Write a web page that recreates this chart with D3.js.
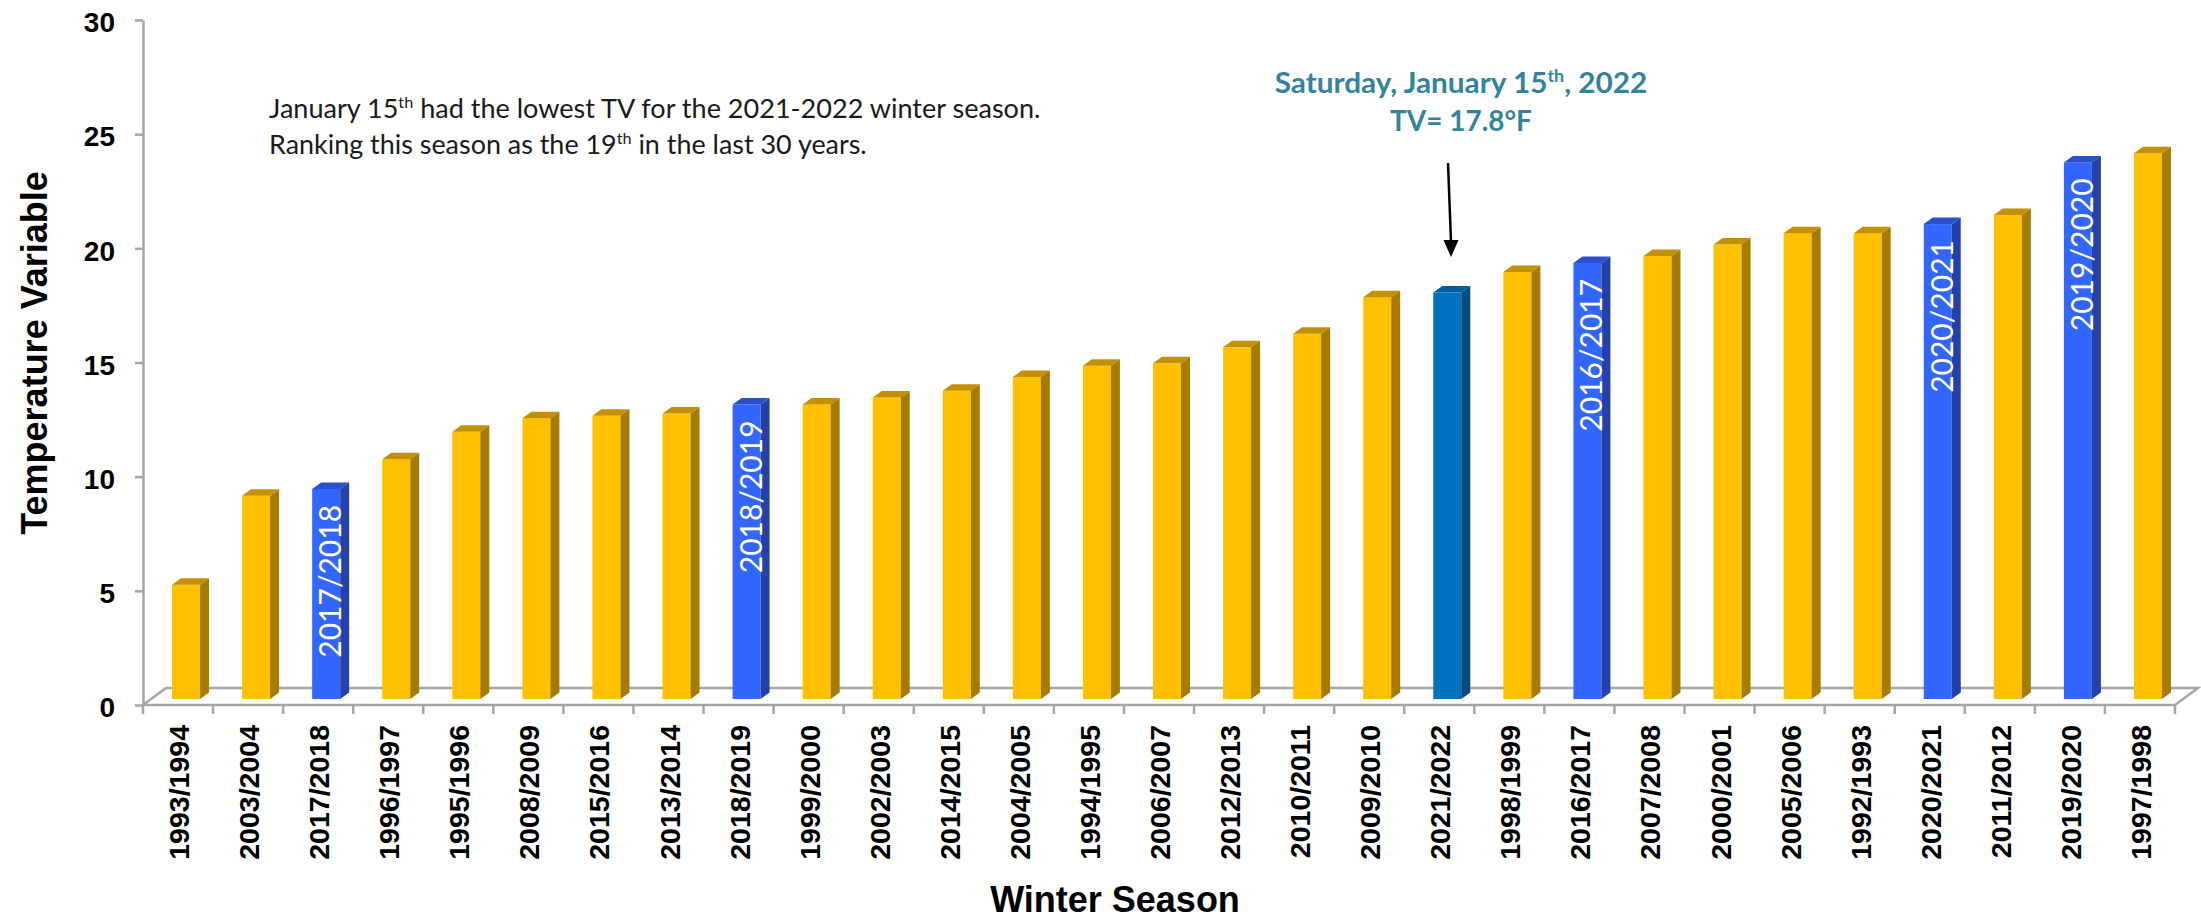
<!DOCTYPE html>
<html><head><meta charset="utf-8">
<script src="https://cdn.jsdelivr.net/npm/d3@7"></script>
<style>
html,body{margin:0;padding:0;background:#fff;}
svg{display:block;}
</style></head>
<body>
<svg id="chart" width="2201" height="921"></svg>
<script>
// ---------------- DATA ----------------
const seasons = ["1993/1994","2003/2004","2017/2018","1996/1997","1995/1996","2008/2009","2015/2016","2013/2014","2018/2019","1999/2000","2002/2003","2014/2015","2004/2005","1994/1995","2006/2007","2012/2013","2010/2011","2009/2010","2021/2022","1998/1999","2016/2017","2007/2008","2000/2001","2005/2006","1992/1993","2020/2021","2011/2012","2019/2020","1997/1998"];
const tvValues = [5.0,8.9,9.2,10.5,11.7,12.3,12.4,12.5,12.9,12.9,13.2,13.5,14.1,14.6,14.7,15.4,16.0,17.6,17.8,18.7,19.1,19.4,19.9,20.4,20.4,20.8,21.2,23.5,23.9];
const recentSeasons = ["2016/2017","2017/2018","2018/2019","2019/2020","2020/2021"];
const currentSeason = "2021/2022";
const yTicks = [0,5,10,15,20,25,30];
const yTitle = "Temperature Variable";
const xTitle = "Winter Season";

// ---------------- SETUP ----------------
const svg = d3.select("#chart");
const ARIAL = "'Liberation Sans', Arial, sans-serif";
const CALIBRI = "Lato, 'Open Sans', sans-serif";

const x = d3.scaleBand().domain(seasons).range([143, 2175]).padding(0);
const y = d3.scaleLinear().domain([0, 30]).range([705, 20]);
const bw = x.bandwidth();

const floorDepth = {dx: 23, dy: 17};
const barPlane = {dx: 8, dy: 6};
const barW = 28, barDx = 9, barDy = 6.5;

const palette = {
  normal:  {front: "#FFC000", side: "#A67C00", top: "#C29000"},
  recent:  {front: "#3366FF", side: "#2341A8", top: "#2A50CC"},
  current: {front: "#0070C0", side: "#004B82", top: "#005C9E"}
};
function kind(s){ return s === currentSeason ? "current" : (recentSeasons.includes(s) ? "recent" : "normal"); }

const data = seasons.map((s, i) => ({season: s, value: tvValues[i]}));

// ---------------- FLOOR ----------------
const x0 = x.range()[0], x1 = x.range()[1], y0 = y(0);
svg.append("polygon")
  .attr("points", [[x0, y0], [x1, y0], [x1 + floorDepth.dx, y0 - floorDepth.dy], [x0 + floorDepth.dx, y0 - floorDepth.dy]].map(p => p.join(",")).join(" "))
  .attr("fill", "#fff").attr("stroke", "#A6A6A6").attr("stroke-width", 2.5).attr("stroke-linejoin", "miter");

// ---------------- Y AXIS ----------------
const yAxis = d3.axisLeft(y).tickValues(yTicks).tickSize(8).tickSizeOuter(0).tickPadding(20);
const gy = svg.append("g").attr("transform", `translate(${x0},0)`).call(yAxis);
gy.select(".domain").attr("stroke", "#A6A6A6").attr("stroke-width", 2.5);
gy.selectAll(".tick line").attr("stroke", "#A6A6A6").attr("stroke-width", 2.5);
gy.selectAll(".tick text").attr("font-family", ARIAL).attr("font-weight", "bold")
  .attr("font-size", 28).attr("fill", "#000").attr("dy", "0.42em");

// ---------------- X TICKS ----------------
const edges = seasons.map(s => x(s)).concat([x(seasons[seasons.length - 1]) + bw]);
svg.append("g").selectAll("line").data(edges).join("line")
  .attr("x1", d => d).attr("x2", d => d).attr("y1", y0).attr("y2", y0 + 9)
  .attr("stroke", "#A6A6A6").attr("stroke-width", 2.5);

svg.append("g").selectAll("text").data(seasons).join("text")
  .attr("transform", s => `translate(${x(s) + bw / 2 + 11},${y0 + 20}) rotate(-90)`)
  .attr("text-anchor", "end")
  .attr("font-family", ARIAL).attr("font-weight", "bold").attr("font-size", 28.5)
  .attr("fill", "#000")
  .text(s => s);

// ---------------- BARS ----------------
const bars = svg.append("g").selectAll("g").data(data).join("g");
function geom(d){
  const fl = x(d.season) + bw / 2 + barPlane.dx - barW / 2;
  const yb = y(0) - barPlane.dy;
  const yt = y(d.value) - barPlane.dy;
  return {fl, yb, yt, fr: fl + barW};
}
bars.append("rect")
  .attr("x", d => geom(d).fl).attr("y", d => geom(d).yt)
  .attr("width", barW).attr("height", d => geom(d).yb - geom(d).yt)
  .attr("fill", d => palette[kind(d.season)].front);
bars.append("polygon")
  .attr("points", d => { const g = geom(d);
    return [[g.fr, g.yt], [g.fr + barDx, g.yt - barDy], [g.fr + barDx, g.yb - barDy], [g.fr, g.yb]].map(p => p.join(",")).join(" "); })
  .attr("fill", d => palette[kind(d.season)].side);
bars.append("polygon")
  .attr("points", d => { const g = geom(d);
    return [[g.fl, g.yt], [g.fl + barDx, g.yt - barDy], [g.fr + barDx, g.yt - barDy], [g.fr, g.yt]].map(p => p.join(",")).join(" "); })
  .attr("fill", d => palette[kind(d.season)].top);

// labels inside recent-season bars
svg.append("g").selectAll("text").data(data.filter(d => kind(d.season) === "recent")).join("text")
  .attr("transform", d => { const g = geom(d); return `translate(${g.fl + barW / 2 + 15},${g.yt + 16}) rotate(-90)`; })
  .attr("text-anchor", "end")
  .attr("font-family", CALIBRI).attr("font-size", 30).attr("fill", "#fff")
  .text(d => d.season);

// ---------------- TITLES ----------------
svg.append("text").attr("transform", "translate(47,353) rotate(-90)")
  .attr("text-anchor", "middle").attr("font-family", ARIAL).attr("font-weight", "bold")
  .attr("font-size", 36).attr("fill", "#000").text(yTitle);
svg.append("text").attr("x", 1115).attr("y", 912)
  .attr("text-anchor", "middle").attr("font-family", ARIAL).attr("font-weight", "bold")
  .attr("font-size", 36).attr("fill", "#000").text(xTitle);

// ---------------- ANNOTATIONS ----------------
function fitWidth(sel, target, mode){
  const bb = sel.node().getBBox();
  const s = target / bb.width;
  const cx = mode === "middle" ? bb.x + bb.width / 2 : bb.x;
  sel.attr("transform", `translate(${cx},0) scale(${s},1) translate(${-cx},0)`);
}
function supText(g, xPos, yPos, parts, opts){
  const t = g.append("text").attr("x", xPos).attr("y", yPos)
    .attr("text-anchor", opts.anchor).attr("font-family", CALIBRI)
    .attr("font-weight", opts.weight).attr("font-size", opts.size).attr("fill", opts.color);
  let raised = false;
  parts.forEach(p => {
    const ts = t.append("tspan").text(p.t);
    if (p.sup) { ts.attr("font-size", opts.size * 0.6).attr("dy", -opts.size * 0.38); raised = true; }
    else if (raised) { ts.attr("dy", opts.size * 0.38); raised = false; }
  });
  return t;
}
const ann = svg.append("g");
const noteOpts = {anchor: "start", weight: "normal", size: 26, color: "#1a1a1a"};
const n1 = supText(ann, 269, 118, [{t: "January 15"}, {t: "th", sup: true}, {t: " had the lowest TV for the 2021-2022 winter season."}], noteOpts);
fitWidth(n1, 772, "start");
const n2 = supText(ann, 269, 154, [{t: "Ranking this season as the 19"}, {t: "th", sup: true}, {t: " in the last 30 years."}], noteOpts);
fitWidth(n2, 598, "start");

const tealOpts = {anchor: "middle", weight: "bold", size: 28, color: "#31849B"};
const t1 = supText(ann, 1461, 93, [{t: "Saturday, January  15"}, {t: "th", sup: true}, {t: ", 2022"}], tealOpts);
fitWidth(t1, 373, "middle");
const t2 = supText(ann, 1461, 131, [{t: "TV= 17.8°F"}], tealOpts);
fitWidth(t2, 142, "middle");

// arrow
ann.append("line").attr("x1", 1448).attr("y1", 163).attr("x2", 1451).attr("y2", 242)
  .attr("stroke", "#000").attr("stroke-width", 2.5);
ann.append("polygon").attr("points", "1443.5,240 1458.5,240 1451,257").attr("fill", "#000");
</script>
</body></html>
